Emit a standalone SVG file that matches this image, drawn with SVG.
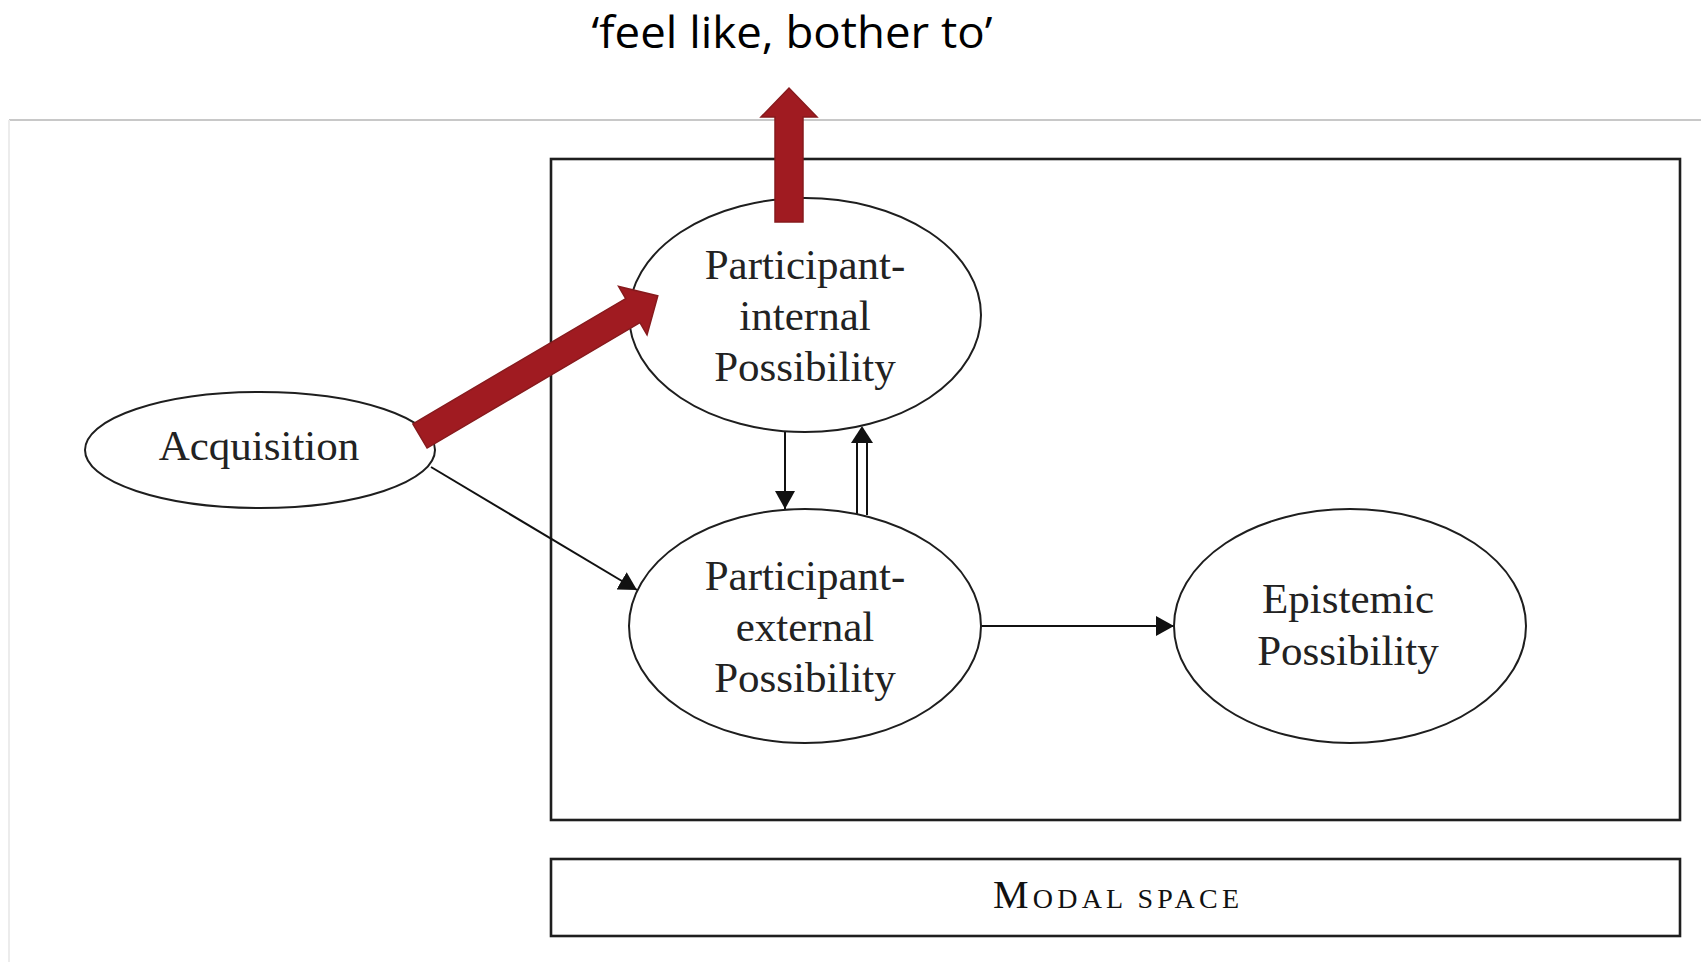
<svg xmlns="http://www.w3.org/2000/svg" width="1701" height="962" viewBox="0 0 1701 962">
<style>
.node ellipse{fill:#fff;stroke:#1e1e1e;stroke-width:2}
.box{fill:none;stroke:#1e1e1e;stroke-width:2.6}
.lbl{font-family:"Liberation Serif","Times New Roman",serif;font-size:43px;fill:#222;text-anchor:middle}
.conn line{stroke:#111;stroke-width:2}
.red{fill:#A01B21;stroke:#871A1D;stroke-width:1.5;stroke-linejoin:miter}
</style>
<defs>
<marker id="ah" viewBox="0 0 18 20" refX="18" refY="10" markerWidth="18" markerHeight="20" markerUnits="userSpaceOnUse" orient="auto">
<path d="M0,0 L18,10 L0,20 z" fill="#111"/>
</marker>
</defs>
<rect width="1701" height="962" fill="#fff"/>
<line x1="9" y1="120" x2="1701" y2="120" stroke="#c8c8c8" stroke-width="2"/>
<line x1="9" y1="120" x2="9" y2="962" stroke="#ececec" stroke-width="2"/>
<text x="792" y="48" font-family="'Open Sans','Noto Sans',sans-serif" font-size="44" fill="#000" text-anchor="middle" textLength="401" lengthAdjust="spacingAndGlyphs">‘feel like, bother to’</text>
<g id="modal-box">
<rect class="box" x="551" y="159" width="1129" height="661"/>
</g>
<g id="modal-space">
<rect class="box" x="551" y="859" width="1129" height="77"/>
<text x="1116" y="908" font-family="'Liberation Serif','Times New Roman',serif" fill="#111" text-anchor="middle" textLength="246" lengthAdjust="spacing"><tspan font-size="40">M</tspan><tspan font-size="28">ODAL SPACE</tspan></text>
</g>
<g id="connectors" class="conn">
<line x1="785" y1="431" x2="785" y2="509" marker-end="url(#ah)"/>
<line x1="857" y1="515" x2="857" y2="442"/>
<line x1="867" y1="515" x2="867" y2="442"/>
<polygon points="851,443 873,443 862,426" fill="#111"/>
<line x1="431" y1="467" x2="637" y2="590" marker-end="url(#ah)"/>
<line x1="981" y1="626" x2="1174" y2="626" marker-end="url(#ah)"/>
</g>
<g id="acquisition" class="node">
<ellipse cx="260" cy="450" rx="175" ry="58"/>
<text class="lbl" x="259" y="460">Acquisition</text>
</g>
<g id="participant-internal" class="node">
<ellipse cx="805" cy="315" rx="176" ry="117"/>
<text class="lbl" x="805" y="279">Participant-</text>
<text class="lbl" x="805" y="330">internal</text>
<text class="lbl" x="805" y="381">Possibility</text>
</g>
<g id="participant-external" class="node">
<ellipse cx="805" cy="626" rx="176" ry="117"/>
<text class="lbl" x="805" y="590">Participant-</text>
<text class="lbl" x="805" y="641">external</text>
<text class="lbl" x="805" y="692">Possibility</text>
</g>
<g id="epistemic" class="node">
<ellipse cx="1350" cy="626" rx="176" ry="117"/>
<text class="lbl" x="1348" y="613">Epistemic</text>
<text class="lbl" x="1348" y="665">Possibility</text>
</g>
<g id="red-arrows">
<path class="red" transform="translate(420,436) rotate(-30.5)" d="M0,-14 L247,-14 L247,-28 L276,0 L247,28 L247,14 L0,14 Z"/>
<path class="red" transform="translate(789,222) rotate(-90)" d="M0,-14 L105,-14 L105,-28 L134,0 L105,28 L105,14 L0,14 Z"/>
</g>
</svg>
